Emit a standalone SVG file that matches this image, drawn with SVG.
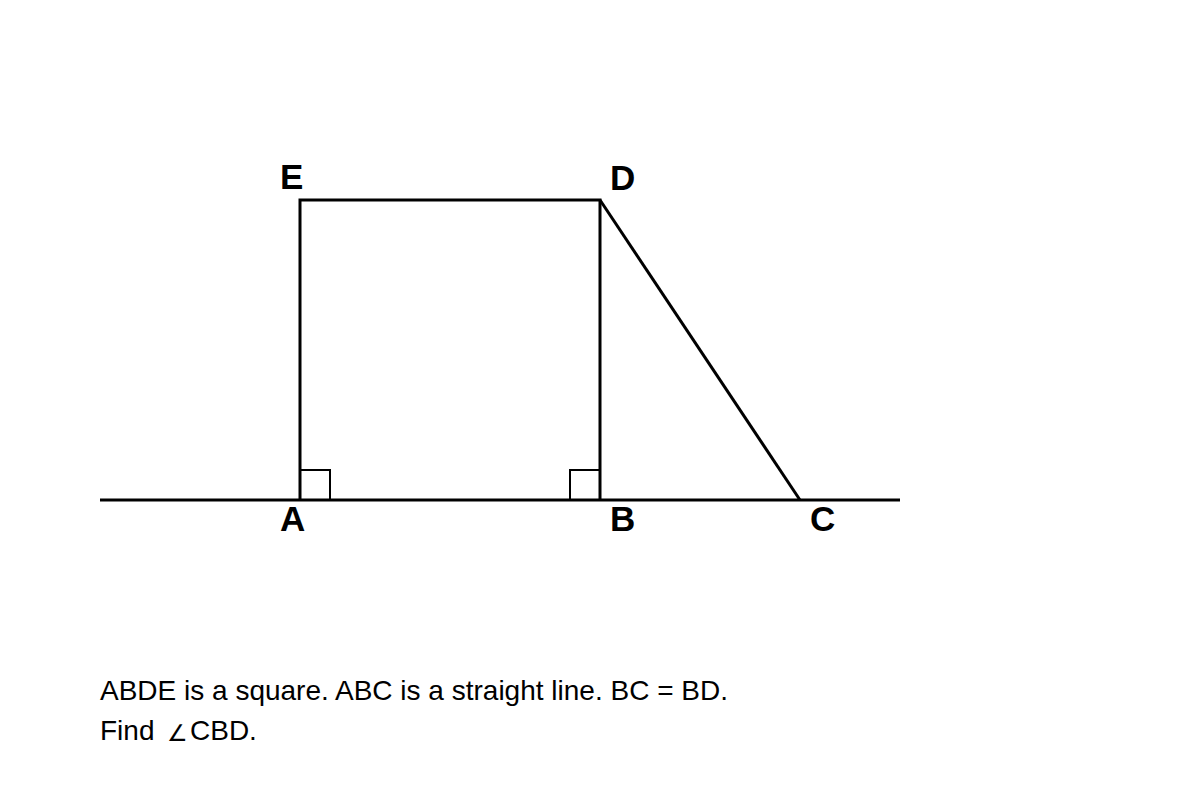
<svg xmlns="http://www.w3.org/2000/svg" width="1200" height="800" viewBox="0 0 1200 800">
<style>
.ln{fill:none;stroke:#000;stroke-width:3}
.rt{fill:none;stroke:#000;stroke-width:2}
.lb{font-family:"Liberation Sans",Arial,sans-serif;font-weight:bold;font-size:35px;fill:#000}
.tx{font-family:"Liberation Sans",Arial,sans-serif;font-size:28px;fill:#000}
</style>
<rect width="1200" height="800" fill="#fff"/>
<g id="connectors">
<line class="ln" x1="100" y1="500" x2="900" y2="500"/>
<polyline class="ln" points="300,500 300,200 600,200 600,500"/>
<line class="ln" x1="600" y1="200" x2="800" y2="500"/>
</g>
<g id="right-angle-A"><rect class="rt" x="300" y="470" width="30" height="30"/></g>
<g id="right-angle-B"><rect class="rt" x="570" y="470" width="30" height="30"/></g>
<g id="node-E"><text class="lb" x="280" y="189">E</text></g>
<g id="node-D"><text class="lb" x="610" y="190">D</text></g>
<g id="node-A"><text class="lb" x="280" y="531">A</text></g>
<g id="node-B"><text class="lb" x="610" y="531">B</text></g>
<g id="node-C"><text class="lb" x="810" y="531">C</text></g>
<g id="caption">
<text class="tx" x="100" y="700">ABDE is a square. ABC is a straight line. BC = BD.</text>
<text class="tx" x="100" y="740">Find</text>
<text x="167" y="741" font-family="'DejaVu Sans',sans-serif" font-size="23" fill="#000">∠</text>
<text class="tx" x="190" y="740">CBD.</text>
</g>
</svg>
